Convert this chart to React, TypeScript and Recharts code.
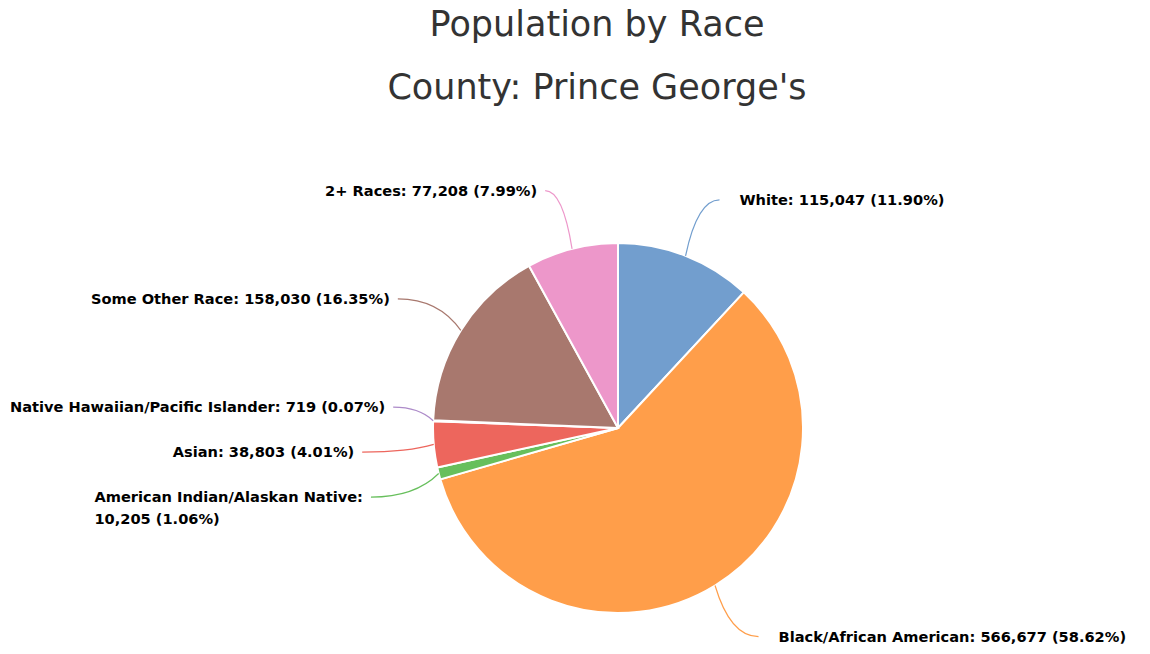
import { PieChart, Pie, Cell } from "recharts";

const categories = [
  "White",
  "Black/African American",
  "American Indian/Alaskan Native",
  "Asian",
  "Native Hawaiian/Pacific Islander",
  "Some Other Race",
  "2+ Races",
];
const populations = [115047, 566677, 10205, 38803, 719, 158030, 77208];
const percentLabels = ["11.90", "58.62", "1.06", "4.01", "0.07", "16.35", "7.99"];
const sliceColors = ["#729ece", "#ff9e4a", "#67bf5c", "#ed665d", "#ad8bc9", "#a8786e", "#ed97ca"];

const data = categories.map((name, i) => ({ name, value: populations[i], pct: percentLabels[i] }));

const W = 1150;
const H = 654;
const CX = 618;
const CY = 428;
const RADIUS = 185;
const LABEL_R = 245;
const MIN_GAP = 45;
const LEFT_LIMIT = 10;
const LABEL_FONT = "bold 14.6px 'DejaVu Sans', sans-serif";
const WRAPPED = new Set([2]);

const fmt = (n: number) => n.toLocaleString("en-US");

function measure(txt: string) {
  const c = document.createElement("canvas").getContext("2d");
  if (!c) return txt.length * 8;
  c.font = LABEL_FONT;
  return c.measureText(txt).width;
}

function labelLines(i: number) {
  const tail = `${fmt(populations[i])} (${percentLabels[i]}%)`;
  return WRAPPED.has(i) ? [`${categories[i]}:`, tail] : [`${categories[i]}: ${tail}`];
}

// work out where each label sits (clockwise from 12 o'clock), then spread out overlaps
function buildLayout() {
  const total = populations.reduce((a, b) => a + b, 0);
  let cum = 0;
  const items = populations.map((v, i) => {
    const a = ((cum + v / 2) / total) * Math.PI * 2;
    cum += v;
    return { i, a, right: Math.sin(a) >= 0, y: CY - LABEL_R * Math.cos(a) };
  });

  for (const side of [true, false]) {
    const list = items.filter((d) => d.right === side).sort((p, q) => p.y - q.y);
    type Group = { members: typeof list; ideal: number[] };
    const top = (gr: Group) => {
      const n = gr.members.length;
      const mean = gr.ideal.reduce((s, v) => s + v, 0) / n;
      return mean - ((n - 1) * MIN_GAP) / 2;
    };
    const groups: Group[] = [];
    for (const it of list) {
      groups.push({ members: [it], ideal: [it.y] });
      while (groups.length > 1) {
        const g = groups[groups.length - 1];
        const p = groups[groups.length - 2];
        if (top(p) + p.members.length * MIN_GAP > top(g)) {
          groups.splice(groups.length - 2, 2, {
            members: [...p.members, ...g.members],
            ideal: [...p.ideal, ...g.ideal],
          });
        } else break;
      }
    }
    for (const g of groups) {
      const t = top(g);
      g.members.forEach((m, k) => (m.y = t + k * MIN_GAP));
    }
  }

  return items
    .sort((p, q) => p.i - q.i)
    .map((d) => {
      const dy = d.y - CY;
      const half = Math.sqrt(Math.max(0, LABEL_R * LABEL_R - dy * dy)) + 12;
      let ex = d.right ? CX + half : CX - half;
      if (!d.right) {
        const w = Math.max(...labelLines(d.i).map(measure));
        if (ex - 8 - w < LEFT_LIMIT) ex = LEFT_LIMIT + w + 8;
      }
      const sx = CX + RADIUS * Math.sin(d.a);
      const sy = CY - RADIUS * Math.cos(d.a);
      return { ...d, sx, sy, ex };
    });
}

export default function App() {
  const layout = buildLayout();

  const renderLabel = (props: any) => {
    const idx = props.index as number;
    const l = layout[idx];
    const color = sliceColors[idx];
    const lines = labelLines(idx);
    const ctrlX = l.sx + (l.ex - l.sx) * 0.35;
    const path = `M${l.sx},${l.sy} Q${ctrlX},${l.y} ${l.ex},${l.y}`;
    let textX: number;
    let anchor: "start" | "end" = "start";
    if (l.right) {
      textX = l.ex + 20;
    } else if (lines.length > 1) {
      const w = Math.max(...lines.map(measure));
      textX = l.ex - 8 - w;
    } else {
      textX = l.ex - 8;
      anchor = "end";
    }
    return (
      <g key={`lbl-${idx}`}>
        <path d={path} fill="none" stroke={color} strokeWidth={1.2} />
        <text x={textX} y={l.y} textAnchor={anchor} fill="#000" style={{ font: LABEL_FONT }}>
          {lines.map((t, k) => (
            <tspan key={k} x={textX} dy={k === 0 ? "0.35em" : 22}>
              {t}
            </tspan>
          ))}
        </text>
      </g>
    );
  };

  return (
    <div style={{ position: "absolute", left: 0, top: 0, width: W, height: H, background: "#fff" }}>
      <div
        style={{
          position: "absolute",
          left: 0,
          top: -7,
          width: 1194,
          textAlign: "center",
          fontFamily: "'DejaVu Sans', sans-serif",
          fontSize: 35,
          color: "#333",
          lineHeight: "63px",
        }}
      >
        <div>Population by Race</div>
        <div>County: Prince George's</div>
      </div>
      <PieChart
        width={W}
        height={H}
        margin={{ top: 0, right: 0, bottom: 0, left: 0 }}
        style={{ position: "absolute", left: 0, top: 0 }}
      >
        <Pie
          data={data}
          dataKey="value"
          nameKey="name"
          cx={CX}
          cy={CY}
          outerRadius={RADIUS}
          startAngle={90}
          endAngle={-270}
          stroke="#fff"
          strokeWidth={2}
          label={renderLabel}
          labelLine={false}
          isAnimationActive={false}
        >
          {data.map((d, i) => (
            <Cell key={d.name} fill={sliceColors[i]} />
          ))}
        </Pie>
      </PieChart>
    </div>
  );
}
